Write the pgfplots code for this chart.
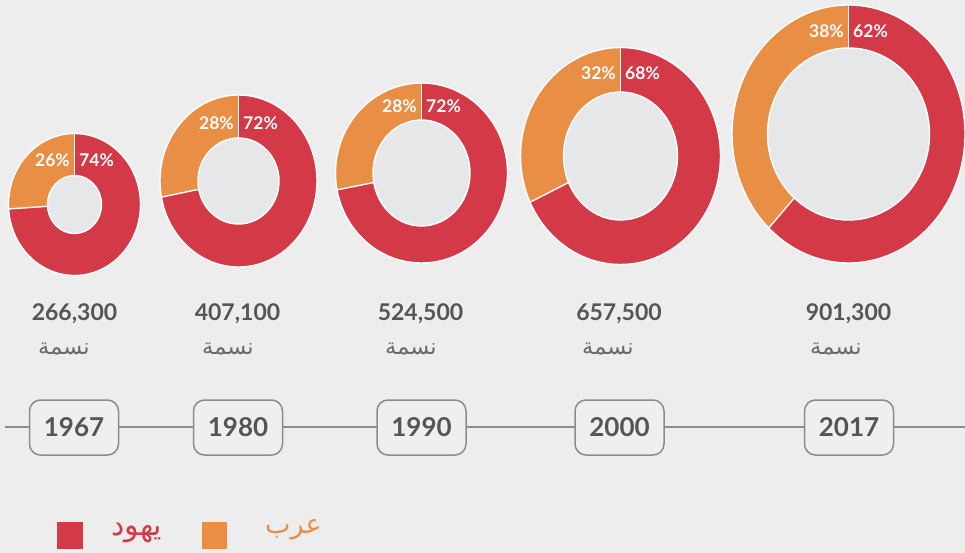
\documentclass[border=0pt]{standalone}
\usepackage{pgfplots}
\pgfplotsset{compat=1.18}
\usepackage{fontspec}
\setmainfont{Lato}
\newfontfamily\arabicfont[Script=Arabic]{DejaVu Sans}
\TeXXeTstate=1
\definecolor{bgc}{HTML}{EEEDED}
\definecolor{holec}{HTML}{E6E7E9}
\definecolor{redc}{HTML}{D33947}
\definecolor{orc}{HTML}{E98E45}
\definecolor{txtc}{HTML}{555555}
\definecolor{arc}{HTML}{6A6A6A}
\definecolor{linec}{HTML}{8C8C8C}
\definecolor{boxfill}{HTML}{F0EFEF}
% #1 cx, #2 cy, #3 outer rx, #4 outer ry, #5 inner rx, #6 inner ry, #7 Arab %, #8 Jewish %, #9 label baseline y
\newcommand{\donut}[9]{%
  \fill[orc] (axis cs:#1,#2) -- ++(90:#3pt and #4pt) arc[start angle=90, end angle={90+3.6*#7}, x radius=#3pt, y radius=#4pt] -- cycle;
  \fill[redc] (axis cs:#1,#2) -- ++(90:#3pt and #4pt) arc[start angle=90, end angle={90-3.6*#8}, x radius=#3pt, y radius=#4pt] -- cycle;
  \draw[white, line width=1.4pt] (axis cs:#1,#2) ellipse[x radius=#3pt, y radius=#4pt];
  \draw[white, line width=1.4pt] (axis cs:#1,#2) -- ++(90:#3pt and #4pt);
  \draw[white, line width=1.4pt] (axis cs:#1,#2) -- ++({90+3.6*#7}:#3pt and #4pt);
  \filldraw[fill=holec, draw=white, line width=1.4pt] (axis cs:#1,#2) ellipse[x radius=#5pt, y radius=#6pt];
  \node[anchor=base east, inner sep=0pt, text=white, font=\fontsize{17.5}{20}\selectfont\bfseries] at (axis cs:#1-4.5,#9) {#7\%};
  \node[anchor=base west, inner sep=0pt, text=white, font=\fontsize{17.5}{20}\selectfont\bfseries] at (axis cs:#1+4.5,#9) {#8\%};
}
% #1 number centre x, #2 number, #3 arabic left x, #4 box centre x, #5 year
\newcommand{\yearblock}[5]{%
  \node[anchor=base, inner sep=0pt, text=txtc, font=\fontsize{23}{26}\selectfont\bfseries] at (axis cs:#1,320) {#2};
  \node[anchor=west, inner sep=0pt, text=arc, font=\fontsize{22.5}{26}\selectfont\arabicfont] at (axis cs:#3,349) {\beginR نسمة\endR};
  \node[draw=linec, line width=1.5pt, fill=boxfill, rounded corners=11pt, minimum width=89pt, minimum height=55pt, inner sep=0pt, text=txtc, font=\fontsize{26}{30}\selectfont\bfseries] at (axis cs:#4,427.5) {#5};
}
\begin{document}
\begin{tikzpicture}
\begin{axis}[x=1pt, y=1pt, xmin=0, xmax=965, ymin=0, ymax=553, y dir=reverse,
  hide axis, at={(0,0)}, anchor=south west]
  \fill[bgc] (axis cs:0,0) rectangle (axis cs:965,553);
  % timeline
  \addplot[linec, line width=2pt] coordinates {(5,427) (965,427)};
  % donuts: Arab share, Jewish share
  \donut{74.5}{204.5}{66}{71}{27}{29}{26}{74}{167}
  \donut{238.5}{181}{78.5}{86}{40.5}{43}{28}{72}{130}
  \donut{421.5}{173}{86}{90}{48.5}{53}{28}{72}{113}
  \donut{620.5}{156}{100}{108.5}{57}{64}{32}{68}{80}
  \donut{848.5}{134}{116.5}{129}{81}{86}{38}{62}{38}
  % totals and years
  \yearblock{74.5}{266,300}{38}{74}{1967}
  \yearblock{237.5}{407,100}{202}{238}{1980}
  \yearblock{420.5}{524,500}{385}{421.5}{1990}
  \yearblock{619}{657,500}{582}{619.5}{2000}
  \yearblock{848.5}{901,300}{810}{849}{2017}
  % legend
  \fill[redc] (axis cs:57,522) rectangle (axis cs:83,549);
  \node[anchor=west, inner sep=0pt, text=redc, font=\fontsize{30}{34}\selectfont\arabicfont] at (axis cs:111,533) {\beginR يهود\endR};
  \fill[orc] (axis cs:202,522) rectangle (axis cs:227,549);
  \node[anchor=west, inner sep=0pt, text=orc, font=\fontsize{27}{31}\selectfont\arabicfont] at (axis cs:265,530) {\beginR عرب\endR};
\end{axis}
\pgfresetboundingbox
\path (0,0) rectangle (965pt,553pt);
\end{tikzpicture}
\end{document}
